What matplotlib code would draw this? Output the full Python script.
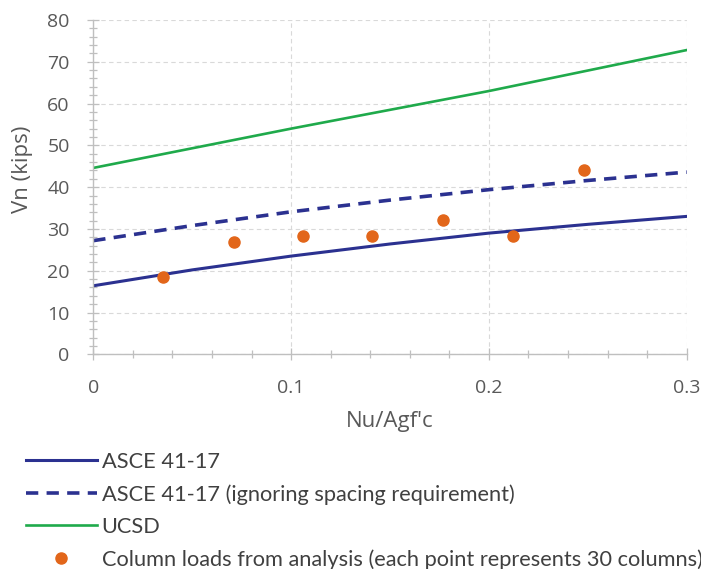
import matplotlib
matplotlib.use("Agg")
import matplotlib.pyplot as plt
from matplotlib.ticker import MultipleLocator

# values
x_curve = [0.0, 0.05, 0.10, 0.15, 0.20, 0.25, 0.30]
asce = [16.4, 20.2, 23.5, 26.4, 29.0, 31.1, 33.0]
asce_nospacing = [27.2, 30.8, 34.1, 36.9, 39.4, 41.6, 43.6]
x_ucsd = [0.0, 0.10, 0.20, 0.30]
ucsd = [44.6, 54.0, 63.0, 72.8]
x_loads = [0.035, 0.071, 0.106, 0.141, 0.177, 0.212, 0.248]
loads = [18.6, 26.8, 28.4, 28.4, 32.2, 28.4, 44.1]

labels = [
    "ASCE 41-17",
    "ASCE 41-17 (ignoring spacing requirement)",
    "UCSD",
    "Column loads from analysis (each point represents 30 columns)",
]

BLUE = "#2B3190"
GREEN = "#1FAA4B"
ORANGE = "#E2661A"
GRAY_TXT = "#595959"
GRAY_AX = "#BFBFBF"

plt.rcParams["font.family"] = ["Open Sans", "DejaVu Sans"]

fig = plt.figure(figsize=(7.01, 5.69), dpi=100)
ax = fig.add_axes([0.1331, 0.3773, 0.8465, 0.5876])

ax.plot(x_curve, asce, color=BLUE, lw=2.2, label=labels[0])
ax.plot(x_curve, asce_nospacing, color=BLUE, lw=2.6, dashes=(3.4, 2.3),
        label=labels[1])
ax.plot(x_ucsd, ucsd, color=GREEN, lw=1.9, label=labels[2])
ax.plot(x_loads, loads, "o", color=ORANGE, ms=8, mec=ORANGE, ls="none",
        label=labels[3], zorder=5)

ax.set_xlim(0, 0.3)
ax.set_ylim(0, 80)
ax.xaxis.set_major_locator(MultipleLocator(0.1))
ax.xaxis.set_minor_locator(MultipleLocator(0.02))
ax.yaxis.set_major_locator(MultipleLocator(10))
ax.yaxis.set_minor_locator(MultipleLocator(2))
ax.set_xticks([0, 0.1, 0.2, 0.3], ["0", "0.1", "0.2", "0.3"])

ax.grid(True, which="major", color="#D9D9D9", lw=0.8, ls=(0, (4, 3)))
ax.set_axisbelow(True)
for s in ("top", "right"):
    ax.spines[s].set_visible(False)
for s in ("left", "bottom"):
    ax.spines[s].set_color(GRAY_AX)
    ax.spines[s].set_linewidth(1.0)

ax.tick_params(which="both", direction="inout", color=GRAY_AX, width=0.9)
ax.tick_params(which="major", length=8, labelsize=14, labelcolor=GRAY_TXT)
ax.tick_params(which="minor", length=6)
ax.tick_params(axis="x", which="major", pad=14)
ax.tick_params(axis="y", which="major", pad=13)

ax.set_xlabel("Nu/Agf'c", fontsize=16, color=GRAY_TXT, labelpad=10)
ax.set_ylabel("Vn (kips)", fontsize=16, color=GRAY_TXT)
ax.yaxis.set_label_coords(-0.102, 0.554)

# legend below the plot; the last entry runs off the right edge as in the source
leg = fig.legend(
    loc="upper left", bbox_to_anchor=(0.0364, 0.2064), frameon=False,
    prop={"family": ["Lato", "DejaVu Sans"], "size": 15.7},
    labelspacing=0.57, handlelength=3.26, handletextpad=0.23,
    borderaxespad=0, borderpad=0,
)
for t in leg.get_texts():
    t.set_color("#404040")

fig.savefig("out.png", dpi=100)
